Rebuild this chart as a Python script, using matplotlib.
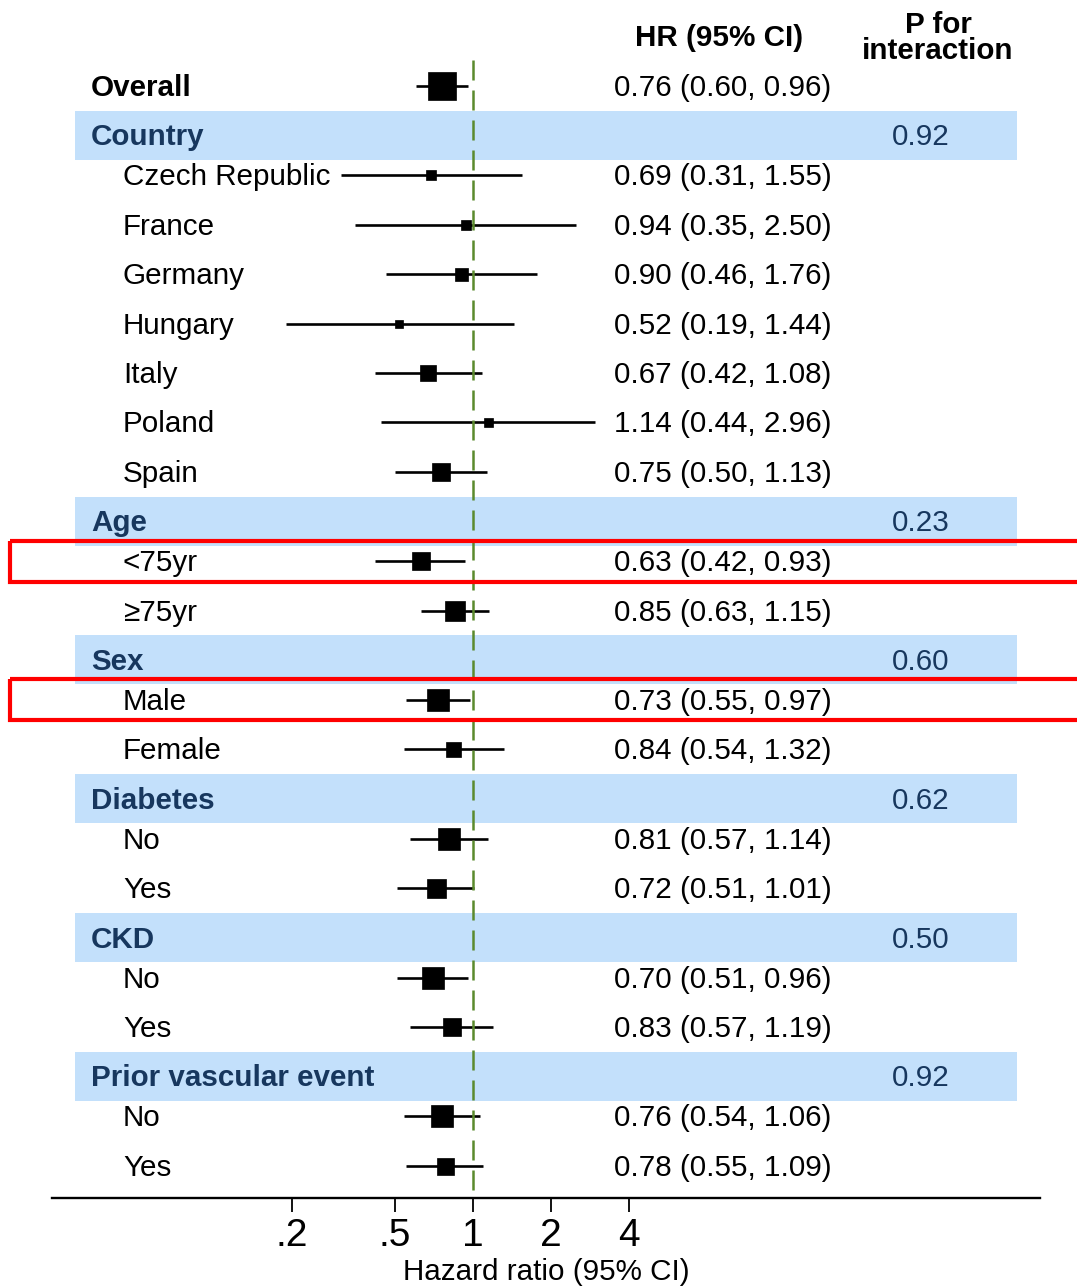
import matplotlib.pyplot as plt
from matplotlib.patches import Rectangle
from matplotlib.transforms import blended_transform_factory

# rows of the forest plot, top to bottom
labels = ["Overall", "Country", "Czech Republic", "France", "Germany", "Hungary",
          "Italy", "Poland", "Spain", "Age", "<75yr", "\u226575yr", "Sex", "Male",
          "Female", "Diabetes", "No", "Yes", "CKD", "No", "Yes",
          "Prior vascular event", "No", "Yes"]
kinds = ["overall", "head", "sub", "sub", "sub", "sub", "sub", "sub", "sub",
         "head", "sub", "sub", "head", "sub", "sub", "head", "sub", "sub",
         "head", "sub", "sub", "head", "sub", "sub"]
hr = [0.76, None, 0.69, 0.94, 0.90, 0.52, 0.67, 1.14, 0.75, None, 0.63, 0.85,
      None, 0.73, 0.84, None, 0.81, 0.72, None, 0.70, 0.83, None, 0.76, 0.78]
lo = [0.60, None, 0.31, 0.35, 0.46, 0.19, 0.42, 0.44, 0.50, None, 0.42, 0.63,
      None, 0.55, 0.54, None, 0.57, 0.51, None, 0.51, 0.57, None, 0.54, 0.55]
hi = [0.96, None, 1.55, 2.50, 1.76, 1.44, 1.08, 2.96, 1.13, None, 0.93, 1.15,
      None, 0.97, 1.32, None, 1.14, 1.01, None, 0.96, 1.19, None, 1.06, 1.09]
# box size (weight)
weight = [28, None, 10, 10, 13, 8, 16, 9, 18, None, 18, 20, None, 22, 15,
          None, 22, 19, None, 22, 18, None, 23, 17]
p_int = [None, "0.92", None, None, None, None, None, None, None, "0.23", None,
         None, "0.60", None, None, "0.62", None, None, "0.50", None, None,
         "0.92", None, None]
highlight = ["<75yr", "Male"]

ticks = [0.2, 0.5, 1, 2, 4]
tick_labels = [".2", ".5", "1", "2", "4"]

W, H = 1077, 1288
plt.rcParams['font.family'] = ['Liberation Sans', 'DejaVu Sans']
FS = 21.3
DY = 2  # text sits a touch lower than the marks
band_c = '#c3e0fb'
navy = '#17375e'

fig = plt.figure(figsize=(W / 100, H / 100), dpi=100)
ax = fig.add_axes([52 / W, (H - 1198) / H, (1040 - 52) / W, (1198 - 55) / H])
ax.set_xscale('log')
ax.set_xlim(2 ** ((52 - 473) / 78), 2 ** ((1040 - 473) / 78))
ax.set_ylim(1198, 55)
for s in ['top', 'left', 'right']:
    ax.spines[s].set_visible(False)
ax.spines['bottom'].set_linewidth(1.7)
ax.set_yticks([])
ax.minorticks_off()
ax.set_xticks(ticks)
ax.set_xticklabels(tick_labels, fontsize=28)
ax.tick_params(axis='x', length=10, width=1.3, pad=4.5)
ax.set_xlabel("Hazard ratio (95% CI)", fontsize=FS, labelpad=3)

tr = blended_transform_factory(fig.transFigure, ax.transData)

# row positions: header rows sit closer to their first subgroup row
ys = []
y = 86
for i, k in enumerate(kinds):
    if i > 0:
        y += 40 if kinds[i - 1] == "head" else 49.4
    ys.append(y)

for i, lab in enumerate(labels):
    yy = ys[i]
    if kinds[i] == "head":
        ax.add_patch(Rectangle((75 / W, yy - 24.5), (1017 - 75) / W, 49,
                               transform=tr, color=band_c, lw=0, zorder=0,
                               clip_on=False))
        ax.text(91 / W, yy + DY, lab, transform=tr, fontsize=FS, fontweight='bold',
                color=navy, va='center', ha='left')
        ax.text(921 / W, yy + DY, p_int[i], transform=tr, fontsize=FS,
                color=navy, va='center', ha='center')
        continue
    x0 = 91 if kinds[i] == "overall" else 123
    ax.text(x0 / W, yy + DY, lab, transform=tr, fontsize=FS, va='center', ha='left',
            fontweight='bold' if kinds[i] == "overall" else 'normal')
    ax.text(614 / W, yy + DY, f"{hr[i]:.2f} ({lo[i]:.2f}, {hi[i]:.2f})",
            transform=tr, fontsize=FS, va='center', ha='left')
    ax.plot([lo[i], hi[i]], [yy, yy], color='black', lw=1.9, zorder=2,
            solid_capstyle='butt')
    ax.plot(hr[i], yy, marker='s', color='black', ms=weight[i] * 0.72,
            mec='black', mew=0.5, zorder=4)
    if lab in highlight:
        ax.add_patch(Rectangle((10 / W, yy - 20.5), 1.1, 41, transform=tr,
                               fill=False, ec='#ff0000', lw=3, zorder=5,
                               clip_on=False))

ax.plot([1, 1], [60, 1190], color='#5b8a2d', lw=1.8, dashes=(8, 4), zorder=3)

# column headers
ax.text(719 / W, 36 + DY, "HR (95% CI)", transform=tr, fontsize=FS,
        fontweight='bold', ha='center', va='center')
ax.text(938 / W, 36 + DY, "P for\ninteraction", transform=tr, fontsize=FS,
        fontweight='bold', ha='center', va='center', linespacing=0.95)

fig.savefig("out.png", dpi=100)
